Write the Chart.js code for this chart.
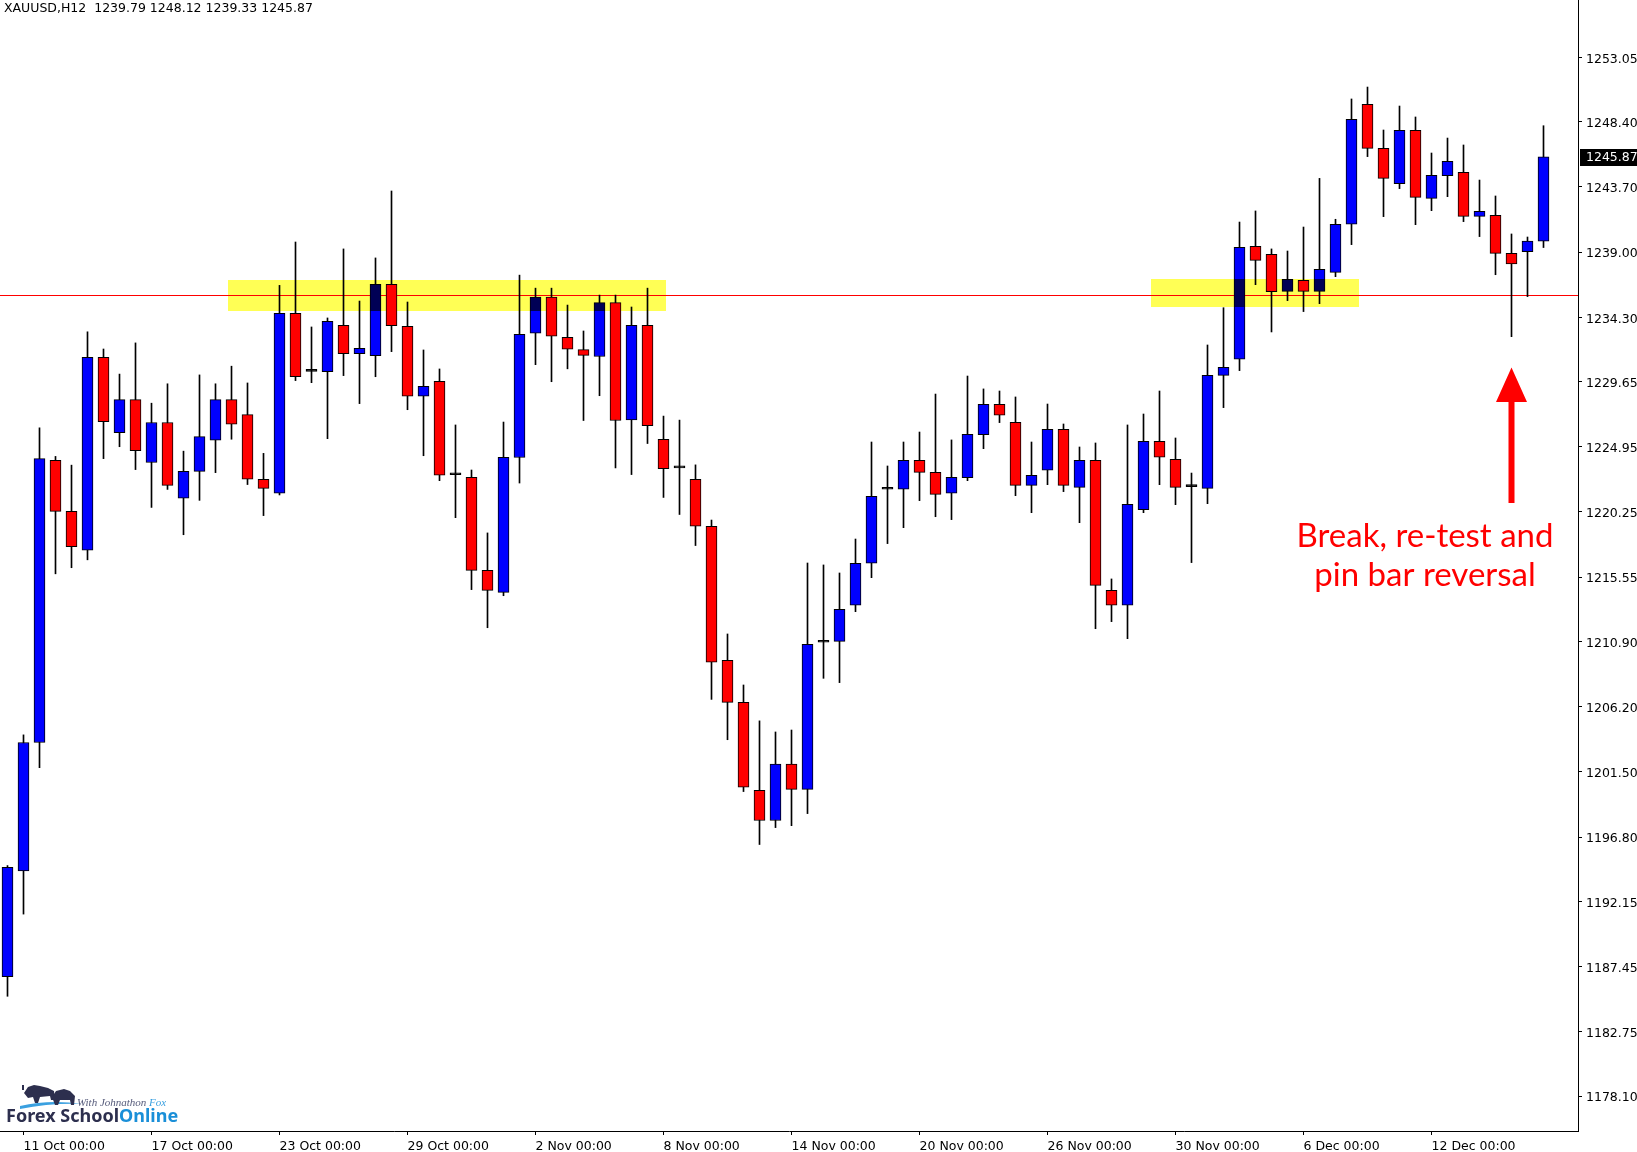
<!DOCTYPE html>
<html>
<head>
<meta charset="utf-8">
<title>XAUUSD,H12</title>
<script src="https://cdn.jsdelivr.net/npm/chart.js@4.4.1/dist/chart.umd.min.js"></script>
<style>
  html, body { margin: 0; padding: 0; background: #fff; }
  #wrap { position: relative; width: 1637px; height: 1152px; }
</style>
</head>
<body>
<div id="wrap"><canvas id="chart"></canvas></div>
<script>
// Velas H12: abertura, máxima, mínima, fecho
const opens = [
  1186.73, 1194.35, 1203.62, 1223.98, 1220.29, 1217.50, 1231.41, 1225.98, 1228.36, 1223.82,
  1226.71, 1221.25, 1223.18, 1225.44, 1228.36, 1227.28, 1222.61, 1221.60, 1234.58, 1230.40,
  1230.38, 1233.72, 1231.67, 1231.53, 1236.68, 1233.65, 1228.60, 1229.68, 1222.94, 1222.75,
  1216.04, 1214.45, 1224.18, 1233.15, 1235.76, 1232.85, 1231.97, 1231.47, 1235.36, 1226.90,
  1233.71, 1225.49, 1223.43, 1222.60, 1219.22, 1209.55, 1206.51, 1200.16, 1197.99, 1202.07,
  1200.24, 1210.85, 1210.92, 1213.52, 1216.55, 1221.89, 1221.89, 1223.98, 1223.11, 1221.60,
  1222.73, 1225.83, 1228.02, 1226.72, 1222.17, 1223.26, 1226.21, 1222.03, 1223.98, 1214.60,
  1213.52, 1220.42, 1225.35, 1224.05, 1222.08, 1221.96, 1230.11, 1231.27, 1239.42, 1238.84,
  1236.17, 1236.97, 1236.17, 1237.54, 1241.01, 1249.66, 1246.49, 1243.94, 1247.79, 1242.88,
  1244.52, 1244.76, 1241.58, 1241.66, 1238.91, 1239.03, 1239.79
];
const highs = [
  1194.74, 1204.17, 1226.33, 1224.26, 1223.63, 1233.25, 1232.01, 1230.20, 1232.45, 1228.10,
  1229.50, 1224.64, 1230.14, 1229.50, 1230.77, 1229.56, 1224.48, 1236.60, 1239.73, 1233.60,
  1234.25, 1239.23, 1235.47, 1238.58, 1243.41, 1235.40, 1231.94, 1230.57, 1226.53, 1223.28,
  1218.74, 1226.74, 1237.34, 1236.40, 1236.40, 1235.18, 1233.31, 1235.90, 1235.90, 1235.04,
  1236.40, 1227.17, 1226.88, 1223.65, 1219.67, 1211.45, 1207.77, 1205.18, 1204.38, 1204.52,
  1216.57, 1216.43, 1215.85, 1218.30, 1225.30, 1223.57, 1225.30, 1226.02, 1228.76, 1225.45,
  1230.06, 1229.13, 1228.98, 1228.55, 1225.30, 1228.04, 1226.60, 1224.94, 1225.23, 1215.42,
  1226.53, 1227.32, 1228.98, 1225.59, 1223.06, 1232.30, 1234.99, 1241.17, 1241.97, 1239.23,
  1239.08, 1240.81, 1244.32, 1241.37, 1250.05, 1250.91, 1247.81, 1249.54, 1248.75, 1246.15,
  1247.23, 1246.73, 1244.20, 1243.05, 1240.31, 1240.09, 1248.12
];
const lows = [
  1185.31, 1191.24, 1201.81, 1215.79, 1216.23, 1216.80, 1224.10, 1224.96, 1223.31, 1220.58,
  1221.88, 1218.61, 1221.09, 1223.09, 1225.50, 1222.23, 1219.99, 1221.48, 1229.73, 1229.58,
  1225.54, 1230.09, 1228.07, 1230.01, 1231.82, 1227.63, 1224.31, 1222.51, 1219.84, 1214.65,
  1211.90, 1214.21, 1222.34, 1230.88, 1229.65, 1230.58, 1226.85, 1228.64, 1223.43, 1222.95,
  1225.19, 1221.30, 1220.07, 1217.83, 1206.73, 1203.82, 1200.08, 1196.26, 1197.48, 1197.62,
  1198.49, 1208.25, 1207.94, 1213.06, 1215.51, 1217.97, 1219.12, 1221.07, 1219.91, 1219.70,
  1222.51, 1224.82, 1226.70, 1221.43, 1220.20, 1222.22, 1221.72, 1219.48, 1211.83, 1212.34,
  1211.11, 1220.20, 1222.22, 1220.78, 1216.60, 1220.85, 1227.78, 1230.45, 1236.65, 1233.24,
  1235.50, 1234.71, 1235.28, 1237.23, 1239.54, 1245.89, 1241.56, 1243.58, 1240.98, 1241.99,
  1243.00, 1241.20, 1240.12, 1237.37, 1232.90, 1235.79, 1239.33
];
const closes = [
  1194.61, 1203.62, 1224.10, 1220.29, 1217.75, 1231.41, 1226.77, 1228.36, 1224.67, 1226.71,
  1222.17, 1223.18, 1225.69, 1228.36, 1226.58, 1222.61, 1221.96, 1234.58, 1230.01, 1230.40,
  1234.01, 1231.67, 1232.06, 1236.68, 1233.69, 1228.60, 1229.32, 1222.90, 1222.94, 1216.04,
  1214.60, 1224.19, 1233.07, 1235.76, 1232.93, 1232.00, 1231.55, 1235.36, 1226.85, 1233.71,
  1226.47, 1223.38, 1223.43, 1219.22, 1209.42, 1206.51, 1200.40, 1197.99, 1202.07, 1200.24,
  1210.70, 1210.85, 1213.23, 1216.55, 1221.38, 1221.89, 1223.98, 1223.11, 1221.52, 1222.75,
  1225.85, 1228.02, 1227.23, 1222.17, 1222.90, 1226.21, 1222.17, 1223.98, 1214.96, 1213.52,
  1220.80, 1225.35, 1224.20, 1222.03, 1222.08, 1230.11, 1230.69, 1239.35, 1238.41, 1236.15,
  1237.04, 1236.17, 1237.76, 1241.01, 1248.58, 1246.49, 1244.32, 1247.79, 1242.95, 1244.54,
  1245.55, 1241.58, 1241.94, 1238.91, 1238.14, 1239.79, 1245.87
];

// Rótulos dos eixos
const xTickIndex = [1, 9, 17, 25, 33, 41, 49, 57, 65, 73, 81, 89];
const xTickLabels = [
  "11 Oct 00:00", "17 Oct 00:00", "23 Oct 00:00", "29 Oct 00:00", "2 Nov 00:00", "8 Nov 00:00",
  "14 Nov 00:00", "20 Nov 00:00", "26 Nov 00:00", "30 Nov 00:00", "6 Dec 00:00", "12 Dec 00:00"
];
const yTickValues = [
  1253.05, 1248.40, 1243.70, 1239.00, 1234.30, 1229.65, 1224.95, 1220.25, 1215.55,
  1210.90, 1206.20, 1201.50, 1196.80, 1192.15, 1187.45, 1182.75, 1178.10
];

// Nível horizontal e zonas marcadas
const levelPrice = 1235.89;
const zoneStart = [13.75, 71.47];
const zoneEnd = [41.16, 84.47];
const zoneLow = [1234.72, 1235.02];
const zoneHigh = [1237.0, 1237.06];

// Seta do pin bar
const arrowBar = 94;
const arrowTip = 1230.68;
const arrowBase = 1228.19;
const arrowTail = 1220.9;

const lastClose = closes[closes.length - 1];
const titleText = "XAUUSD,H12  " + [opens, highs, lows, closes].map((a) => a[a.length - 1].toFixed(2)).join(" ");

const mt4Plugin = {
  id: "mt4",
  beforeDatasetsDraw(chart) {
    const { ctx, chartArea: a, scales: { y } } = chart;
    // linha vermelha (por trás das velas)
    ctx.save();
    ctx.fillStyle = "#ff0000";
    ctx.fillRect(a.left, Math.round(y.getPixelForValue(levelPrice)), a.right - a.left, 1);
    ctx.restore();
  },
  afterDatasetsDraw(chart) {
    const { ctx, scales: { x, y } } = chart;
    // zonas amarelas (multiplicar escurece o azul como no MT4)
    ctx.save();
    ctx.globalCompositeOperation = "multiply";
    ctx.fillStyle = "rgb(255,255,85)";
    zoneStart.forEach((s, i) => {
      const x0 = Math.round(x.getPixelForValue(s));
      const x1 = Math.round(x.getPixelForValue(zoneEnd[i]));
      const y0 = Math.round(y.getPixelForValue(zoneHigh[i]));
      const y1 = Math.round(y.getPixelForValue(zoneLow[i]));
      ctx.fillRect(x0, y0, x1 - x0, y1 - y0);
    });
    ctx.restore();

    // seta vermelha
    const cx = x.getPixelForValue(arrowBar);
    const tip = y.getPixelForValue(arrowTip);
    const base = y.getPixelForValue(arrowBase);
    const tail = y.getPixelForValue(arrowTail);
    ctx.save();
    ctx.fillStyle = "#ff0000";
    ctx.beginPath();
    ctx.moveTo(cx, tip);
    ctx.lineTo(cx + 15.5, base);
    ctx.lineTo(cx + 3, base);
    ctx.lineTo(cx + 3, tail);
    ctx.lineTo(cx - 3, tail);
    ctx.lineTo(cx - 3, base);
    ctx.lineTo(cx - 15.5, base);
    ctx.closePath();
    ctx.fill();

    // texto da anotação
    ctx.font = "33px Lato";
    ctx.textAlign = "center";
    ctx.textBaseline = "middle";
    ctx.fillText("Break, re-test and", 1425, 536);
    ctx.fillText("pin bar reversal", 1425, 575);
    ctx.restore();
  },
  afterDraw(chart) {
    const { ctx, chartArea: a, scales: { y } } = chart;
    ctx.save();
    // título
    ctx.fillStyle = "#000";
    ctx.font = "12.5px 'DejaVu Sans'";
    ctx.textAlign = "left";
    ctx.textBaseline = "middle";
    ctx.fillText(titleText, 4, 9);

    // etiqueta do último preço
    const py = Math.round(y.getPixelForValue(lastClose));
    ctx.fillRect(a.right + 2, py - 8, chart.width - a.right - 2, 17);
    ctx.fillStyle = "#fff";
    ctx.fillText(lastClose.toFixed(2), a.right + 8, py + 1);

    // logótipo
    ctx.fillStyle = "#3aa0e0";
    ctx.beginPath();
    ctx.moveTo(20, 1106);
    ctx.quadraticCurveTo(50, 1099, 82, 1104);
    ctx.quadraticCurveTo(50, 1103, 20, 1109);
    ctx.fill();
    ctx.fillStyle = "#2d2f4e";
    // touro
    ctx.beginPath();
    ctx.moveTo(24, 1093);
    ctx.lineTo(28, 1087);
    ctx.lineTo(34, 1085);
    ctx.lineTo(40, 1086);
    ctx.lineTo(48, 1088);
    ctx.lineTo(54, 1091);
    ctx.lineTo(55, 1100);
    ctx.lineTo(51, 1100);
    ctx.lineTo(50, 1096);
    ctx.lineTo(40, 1097);
    ctx.lineTo(38, 1103);
    ctx.lineTo(35, 1103);
    ctx.lineTo(33, 1097);
    ctx.lineTo(28, 1098);
    ctx.closePath();
    ctx.fill();
    ctx.fillRect(22, 1085, 2, 5);
    // urso
    ctx.beginPath();
    ctx.moveTo(52, 1097);
    ctx.lineTo(56, 1091);
    ctx.lineTo(64, 1089);
    ctx.lineTo(70, 1091);
    ctx.lineTo(75, 1096);
    ctx.lineTo(74, 1105);
    ctx.lineTo(71, 1105);
    ctx.lineTo(70, 1100);
    ctx.lineTo(60, 1100);
    ctx.lineTo(58, 1105);
    ctx.lineTo(55, 1105);
    ctx.closePath();
    ctx.fill();

    ctx.fillStyle = "#555a7a";
    ctx.font = "italic 11px 'Liberation Serif'";
    ctx.fillText("With Johnathon", 77, 1103);
    const w = ctx.measureText("With Johnathon ").width;
    ctx.fillStyle = "#3aa0e0";
    ctx.fillText("Fox", 77 + w, 1103);

    ctx.font = "bold 18px 'Noto Sans'";
    ctx.fillStyle = "#2d2f4e";
    ctx.fillText("Forex School", 6, 1117);
    const w2 = ctx.measureText("Forex School").width;
    ctx.fillStyle = "#1a8fd8";
    ctx.fillText("Online", 6 + w2, 1117);
    ctx.restore();
  },
};

const tickFont = { family: "DejaVu Sans", size: 12.5 };
const ctx = document.getElementById("chart").getContext("2d");
const chart = new Chart(ctx, {
  type: "bar",
  data: {
    datasets: [
      {
        label: "corpo",
        data: opens.map((o, i) => ({ x: i, y: [o, closes[i]] })),
        backgroundColor: opens.map((o, i) =>
          closes[i] > o ? "#0000ff" : closes[i] < o ? "#ff0000" : "#000000"
        ),
        borderColor: "#000",
        borderWidth: 1,
        borderSkipped: false,
        barThickness: 11,
        minBarLength: 2,
        grouped: false,
        order: 1,
      },
      {
        label: "sombra",
        data: lows.map((l, i) => ({ x: i, y: [l, highs[i]] })),
        backgroundColor: "#000",
        borderWidth: 0,
        barThickness: 1,
        grouped: false,
        order: 2,
      },
    ],
  },
  options: {
    responsive: true,
    maintainAspectRatio: false,
    animation: false,
    layout: { padding: 0 },
    plugins: { legend: { display: false }, tooltip: { enabled: false } },
    scales: {
      x: {
        type: "linear",
        min: -0.46875,
        max: 98.15625,
        bounds: "data",
        offset: false,
        grid: { offset: false, drawOnChartArea: false, drawTicks: true, tickLength: 4, color: "#000" },
        border: { display: true, color: "#000" },
        ticks: {
          autoSkip: false,
          maxRotation: 0,
          align: "start",
          padding: 4,
          color: "#000",
          font: tickFont,
          callback: (v) => xTickLabels[xTickIndex.indexOf(v)] ?? "",
        },
        afterBuildTicks: (s) => {
          s.ticks = xTickIndex.map((v) => ({ value: v }));
        },
        afterFit: (s) => {
          s.height = 21;
          s.paddingLeft = 0;
          s.paddingRight = 0;
        },
      },
      y: {
        position: "right",
        min: 1175.59,
        max: 1257.19,
        bounds: "data",
        grid: { drawOnChartArea: false, drawTicks: true, tickLength: 4, color: "#000" },
        border: { display: true, color: "#000" },
        ticks: {
          padding: 4,
          labelOffset: 2,
          color: "#000",
          font: tickFont,
          callback: (v) => v.toFixed(2),
        },
        afterBuildTicks: (s) => {
          s.ticks = yTickValues.map((v) => ({ value: v }));
        },
        afterFit: (s) => {
          s.width = 59;
          s.paddingTop = 0;
          s.paddingBottom = 0;
        },
      },
    },
  },
  plugins: [mt4Plugin],
});
</script>
</body>
</html>
